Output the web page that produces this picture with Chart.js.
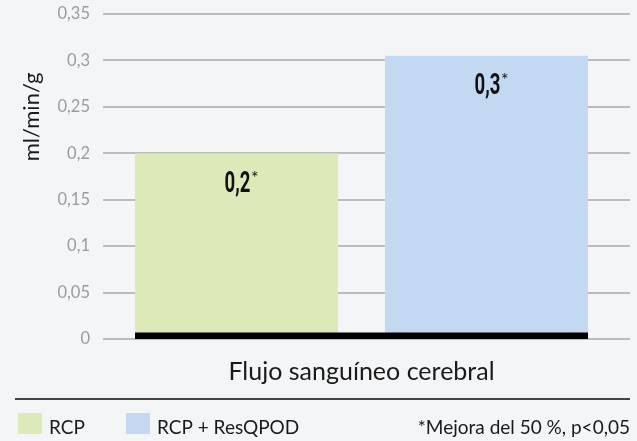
<!DOCTYPE html>
<html>
<head>
<meta charset="utf-8">
<script src="https://cdn.jsdelivr.net/npm/chart.js@4.4.1/dist/chart.umd.min.js"></script>
<style>
html,body{margin:0;padding:0;background:#f4f5f7;}
#wrap{width:637px;height:441px;position:relative;}
</style>
</head>
<body>
<div id="wrap"><canvas id="c" width="637" height="441"></canvas></div>
<script>
const categories = ["Flujo sanguíneo cerebral"];
const seriesNames = ["RCP", "RCP + ResQPOD"];
const rcpValues = [0.2];
const resqpodValues = [0.305];
const valueLabels = ["0,2", "0,3"];
const yTickLabels = ["0", "0,05", "0,1", "0,15", "0,2", "0,25", "0,3", "0,35"];
const yAxisTitle = "ml/min/g";
const footnote = "*Mejora del 50 %, p<0,05";

const FONT = "Lato, 'Noto Sans', sans-serif";
const colors = ["#dce9b9", "#c3d9f1"];

const extras = {
  id: "extras",
  beforeDatasetsDraw(chart) {
    const ctx = chart.ctx, y = chart.scales.y, a = chart.chartArea;
    ctx.save();
    ctx.strokeStyle = "#bcbcbc";
    ctx.lineWidth = 2;
    y.ticks.forEach(t => {
      const py = Math.round(y.getPixelForValue(t.value));
      ctx.beginPath();
      ctx.moveTo(a.right, py);
      ctx.lineTo(a.right + 10, py);
      ctx.stroke();
    });
    ctx.restore();
  },
  afterDatasetsDraw(chart) {
    const ctx = chart.ctx, y = chart.scales.y;
    const b0 = chart.getDatasetMeta(0).data[0];
    const b1 = chart.getDatasetMeta(1).data[0];
    const base = y.getPixelForValue(0);
    ctx.save();
    ctx.fillStyle = "#000";
    const left = b0.x - b0.width / 2, right = b1.x + b1.width / 2;
    ctx.fillRect(left, base - 6.5, right - left, 6.5);
    // value labels (condensed look via horizontal scaling)
    const sx = 0.64;
    [b0, b1].forEach((b, i) => {
      const txt = valueLabels[i];
      ctx.font = "bold 29px Roboto, sans-serif";
      const w = ctx.measureText(txt).width * sx;
      const xl = b.x + 1 - w / 2;
      const base = b.y + 38.5;
      ctx.fillStyle = "#111";
      ctx.textBaseline = "alphabetic";
      ctx.textAlign = "left";
      ctx.save();
      ctx.translate(xl, base);
      ctx.scale(sx, 1);
      ctx.fillText(txt, 0, 0);
      ctx.restore();
      ctx.font = "18px " + FONT;
      ctx.fillText("*", xl + w + 0.5, base - 8);
    });
    ctx.restore();
  },
  afterDraw(chart) {
    const ctx = chart.ctx;
    ctx.save();
    // y title
    ctx.translate(32, 117);
    ctx.rotate(-Math.PI / 2);
    ctx.font = "22px " + FONT;
    ctx.fillStyle = "#1a1a1a";
    ctx.textAlign = "center";
    ctx.textBaseline = "middle";
    ctx.fillText(yAxisTitle, 0, 0);
    ctx.restore();
    ctx.save();
    // separator
    ctx.strokeStyle = "#444";
    ctx.lineWidth = 2;
    ctx.beginPath();
    ctx.moveTo(15, 399);
    ctx.lineTo(630, 399);
    ctx.stroke();
    // legend
    const sq = [18, 126];
    ctx.font = "19px " + FONT;
    ctx.textBaseline = "alphabetic";
    ctx.textAlign = "left";
    seriesNames.forEach((n, i) => {
      ctx.fillStyle = colors[i];
      ctx.fillRect(sq[i], 413, 24, 21);
      ctx.fillStyle = "#1a1a1a";
      ctx.fillText(n, sq[i] + 31, 434);
    });
    ctx.textAlign = "right";
    ctx.fillText(footnote, 630, 434);
    ctx.restore();
  }
};

new Chart(document.getElementById("c"), {
  type: "bar",
  data: {
    labels: categories,
    datasets: [
      { label: seriesNames[0], data: rcpValues, backgroundColor: colors[0] },
      { label: seriesNames[1], data: resqpodValues, backgroundColor: colors[1] }
    ]
  },
  options: {
    responsive: false,
    animation: false,
    devicePixelRatio: 1,
    categoryPercentage: 0.967,
    barPercentage: 0.812,
    layout: { padding: { left: 0, right: 17, top: 14, bottom: 0 } },
    plugins: { legend: { display: false }, tooltip: { enabled: false } },
    scales: {
      x: {
        grid: { display: false },
        border: { display: false },
        ticks: { color: "#1a1a1a", font: { family: FONT, size: 25 }, padding: 10 },
        afterFit(s) { s.height = 102; s.paddingLeft = 0; s.paddingRight = 0; }
      },
      y: {
        min: 0, max: 0.35,
        grid: { color: "#bcbcbc", lineWidth: 2, drawTicks: false },
        border: { display: false },
        ticks: {
          stepSize: 0.05,
          padding: 13,
          color: "#9b9b9b",
          font: { family: FONT, size: 16.5 },
          callback: (v, i) => yTickLabels[i]
        },
        afterFit(s) { s.width = 103; s.paddingTop = 0; s.paddingBottom = 0; }
      }
    }
  },
  plugins: [extras]
});
</script>
</body>
</html>
